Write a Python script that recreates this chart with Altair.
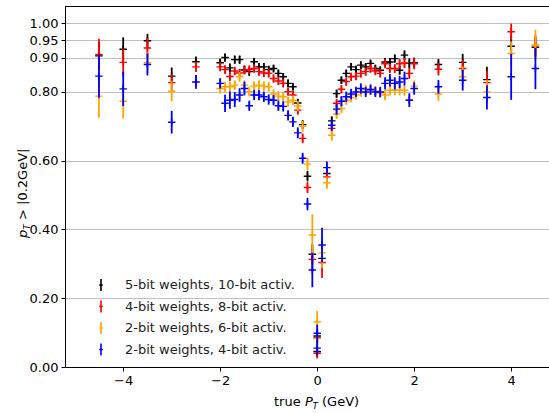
import altair as alt
import pandas as pd

# ---- data -------------------------------------------------------------
MODELS = [
    "5-bit weights, 10-bit activ.",
    "4-bit weights, 8-bit activ.",
    "2-bit weights, 6-bit activ.",
    "2-bit weights, 4-bit activ.",
]
MODEL_COLORS = ["black", "red", "orange", "blue"]

# negative-side bins end at 0 and positive-side bins start at 0,
# so the zero bin appears twice
true_pt = [
    -4.5, -4.0, -3.5, -3.0, -2.5,
    -2.0, -1.9, -1.8, -1.7, -1.6, -1.5, -1.4, -1.3, -1.2, -1.1,
    -1.0, -0.9, -0.8, -0.7, -0.6, -0.5, -0.4, -0.3, -0.2, -0.1,
    0.0, 0.0,
    0.1, 0.2, 0.3, 0.4, 0.5, 0.6, 0.7, 0.8, 0.9, 1.0,
    1.1, 1.2, 1.3, 1.4, 1.5, 1.6, 1.7, 1.8, 1.9, 2.0,
    2.5, 3.0, 3.5, 4.0, 4.5,
]

eff_w5_a10 = [
    0.905, 0.924, 0.949, 0.846, 0.888,
    0.885, 0.900, 0.870, 0.894, 0.894, 0.865, 0.859, 0.888, 0.873, 0.873,
    0.865, 0.868, 0.854, 0.844, 0.825, 0.815, 0.768, 0.705, 0.555, 0.328,
    0.090, 0.045,
    0.316, 0.563, 0.716, 0.795, 0.834, 0.854, 0.873, 0.865, 0.878, 0.873,
    0.883, 0.868, 0.863, 0.887, 0.887, 0.897, 0.863, 0.907, 0.883, 0.885,
    0.880, 0.886, 0.836, 0.933, 0.930,
]
err_w5_a10 = [
    0.040, 0.035, 0.020, 0.025, 0.015,
    0.012, 0.012, 0.013, 0.012, 0.012, 0.012, 0.012, 0.011, 0.011, 0.011,
    0.011, 0.011, 0.011, 0.011, 0.011, 0.011, 0.012, 0.013, 0.015, 0.030,
    0.020, 0.015,
    0.030, 0.014, 0.013, 0.012, 0.011, 0.011, 0.011, 0.011, 0.011, 0.011,
    0.011, 0.011, 0.011, 0.012, 0.012, 0.012, 0.013, 0.014, 0.015, 0.015,
    0.016, 0.025, 0.037, 0.030, 0.030,
]

eff_w4_a8 = [
    0.909, 0.886, 0.928, 0.827, 0.873,
    0.873, 0.865, 0.845, 0.861, 0.855, 0.863, 0.865, 0.868, 0.859, 0.855,
    0.854, 0.839, 0.832, 0.825, 0.801, 0.791, 0.747, 0.665, 0.522, 0.313,
    0.085, 0.040,
    0.304, 0.553, 0.694, 0.767, 0.808, 0.830, 0.844, 0.846, 0.854, 0.859,
    0.868, 0.861, 0.854, 0.882, 0.868, 0.868, 0.882, 0.884, 0.854, 0.882,
    0.866, 0.868, 0.827, 0.975, 0.935,
]
err_w4_a8 = [
    0.046, 0.040, 0.030, 0.025, 0.015,
    0.013, 0.013, 0.013, 0.012, 0.012, 0.012, 0.012, 0.012, 0.012, 0.012,
    0.012, 0.012, 0.012, 0.012, 0.012, 0.012, 0.013, 0.014, 0.016, 0.035,
    0.020, 0.015,
    0.045, 0.015, 0.014, 0.013, 0.012, 0.012, 0.012, 0.012, 0.012, 0.012,
    0.012, 0.012, 0.012, 0.013, 0.013, 0.013, 0.014, 0.015, 0.016, 0.016,
    0.018, 0.025, 0.035, 0.024, 0.030,
]

eff_w2_a6 = [
    0.788, 0.773, 0.885, 0.802, 0.829,
    0.810, 0.815, 0.815, 0.820, 0.844, 0.820, 0.801, 0.817, 0.820, 0.817,
    0.815, 0.794, 0.788, 0.786, 0.771, 0.776, 0.759, 0.700, 0.590, 0.384,
    0.131, 0.083,
    0.332, 0.536, 0.674, 0.736, 0.752, 0.776, 0.784, 0.791, 0.800, 0.807,
    0.805, 0.803, 0.797, 0.791, 0.805, 0.805, 0.805, 0.805, 0.778, 0.817,
    0.794, 0.844, 0.800, 0.912, 0.936,
]
err_w2_a6 = [
    0.063, 0.050, 0.030, 0.030, 0.020,
    0.015, 0.015, 0.015, 0.014, 0.014, 0.014, 0.014, 0.014, 0.014, 0.014,
    0.014, 0.014, 0.014, 0.014, 0.014, 0.014, 0.015, 0.016, 0.018, 0.060,
    0.032, 0.020,
    0.045, 0.018, 0.016, 0.015, 0.014, 0.014, 0.014, 0.014, 0.014, 0.014,
    0.014, 0.014, 0.014, 0.015, 0.015, 0.015, 0.015, 0.016, 0.017, 0.017,
    0.020, 0.030, 0.035, 0.035, 0.045,
]

eff_w2_a4 = [
    0.846, 0.809, 0.880, 0.712, 0.829,
    0.825, 0.767, 0.776, 0.778, 0.791, 0.810, 0.760, 0.791, 0.791, 0.786,
    0.778, 0.776, 0.760, 0.758, 0.732, 0.713, 0.681, 0.607, 0.474, 0.282,
    0.098, 0.055,
    0.355, 0.580, 0.703, 0.750, 0.773, 0.786, 0.794, 0.800, 0.810, 0.800,
    0.807, 0.800, 0.800, 0.825, 0.834, 0.825, 0.829, 0.839, 0.776, 0.810,
    0.815, 0.834, 0.784, 0.844, 0.868,
]
err_w2_a4 = [
    0.063, 0.050, 0.032, 0.033, 0.020,
    0.015, 0.025, 0.025, 0.022, 0.020, 0.020, 0.015, 0.015, 0.015, 0.015,
    0.015, 0.015, 0.015, 0.015, 0.015, 0.015, 0.016, 0.016, 0.018, 0.050,
    0.025, 0.020,
    0.050, 0.018, 0.016, 0.016, 0.015, 0.015, 0.015, 0.015, 0.015, 0.015,
    0.015, 0.015, 0.015, 0.018, 0.018, 0.018, 0.018, 0.020, 0.020, 0.018,
    0.020, 0.030, 0.035, 0.067, 0.060,
]

y_ticks = [0.0, 0.2, 0.4, 0.6, 0.8, 0.9, 0.95, 1.0]
x_ticks = [-4, -2, 0, 2, 4]

# ---- table ------------------------------------------------------------
frames = []
for name, eff, err in zip(
    MODELS,
    [eff_w5_a10, eff_w4_a8, eff_w2_a6, eff_w2_a4],
    [err_w5_a10, err_w4_a8, err_w2_a6, err_w2_a4],
):
    frames.append(pd.DataFrame({"pt": true_pt, "eff": eff, "err": err, "model": name}))
df = pd.concat(frames, ignore_index=True)

# ---- layout -----------------------------------------------------------
FONT = "DejaVu Sans"
FS = 13
W, H = 484, 361
PAD = {"left": 65, "top": 6, "right": 0, "bottom": 46}

x_scale = alt.Scale(domain=[-5.2, 4.78], nice=False, zero=False)
y_scale = alt.Scale(domain=[0, 1.05], nice=False, zero=False)

x_axis = alt.Axis(values=x_ticks, title=None, grid=False, tickSize=4,
                  tickColor="black", domainColor="black", labelPadding=3)
y_axis = alt.Axis(values=y_ticks, format=".2f", title=None, grid=True,
                  gridColor="#b0b0b0", gridWidth=0.8, tickSize=4,
                  tickColor="black", domainColor="black", labelPadding=3)

PLUS = "M-1,0L1,0M0,-1L0,1"
LEGEND_PLUS = "M-0.3,0L0.3,0M0,-1L0,1"

color = alt.Color(
    "model:N",
    scale=alt.Scale(domain=MODELS, range=MODEL_COLORS),
    legend=alt.Legend(
        orient="none", legendX=29, legendY=272, title=None,
        symbolType=LEGEND_PLUS, symbolSize=144, symbolStrokeWidth=1.6,
        symbolFillColor="transparent",
        labelFont=FONT, labelFontSize=FS, labelColor="#222222",
        labelOffset=17, labelLimit=0, rowPadding=1.5, padding=0,
    ),
)

layers = []
for name in MODELS:
    sub = alt.Chart(df).transform_filter(alt.datum.model == name)
    bars = sub.transform_calculate(
        lo="datum.eff - datum.err", hi="datum.eff + datum.err"
    ).mark_rule(strokeWidth=1.8).encode(
        x=alt.X("pt:Q", scale=x_scale, axis=x_axis),
        y=alt.Y("lo:Q", scale=y_scale, axis=y_axis),
        y2="hi:Q",
        color=color,
    )
    marks = sub.mark_point(shape=PLUS, filled=False, size=56, strokeWidth=1.4,
                           opacity=1).encode(
        x=alt.X("pt:Q", scale=x_scale, axis=x_axis),
        y=alt.Y("eff:Q", scale=y_scale, axis=y_axis),
        color=color,
    )
    layers += [bars, marks]

# top frame line
frame_top = alt.Chart(pd.DataFrame({"k": [0]})).mark_rule(
    color="black", strokeWidth=1
).encode(x=alt.value(0), x2=alt.value(W), y=alt.value(0.5))

# axis titles built from text pieces (italic symbol + subscript)
def text_piece(txt, x, y, size=FS, italic=False, angle=0):
    kw = dict(font=FONT, fontSize=size, align="left", baseline="alphabetic",
              color="black")
    if italic:
        kw["fontStyle"] = "italic"
    if angle:
        kw["angle"] = angle
    return alt.Chart(pd.DataFrame({"t": [txt]})).mark_text(**kw).encode(
        text="t:N", x=alt.value(x), y=alt.value(y))

# x title: "true P_T (GeV)" centred under the axis
xt0, xty = 209, 400
x_title = [
    text_piece("true", xt0, xty),
    text_piece("P", xt0 + 31, xty, italic=True),
    text_piece("T", xt0 + 38.5, xty + 3, size=9, italic=True),
    text_piece("(GeV)", xt0 + 48, xty),
]

# y title: "p_T > |0.2GeV|" rotated, reading upward
ytx, yty = -38, 232
y_title = [
    text_piece("p", ytx, yty, italic=True, angle=270),
    text_piece("T", ytx + 3, yty - 8.3, size=9, italic=True, angle=270),
    text_piece(">", ytx, yty - 18, angle=270),
    text_piece("|0.2GeV|", ytx, yty - 33, angle=270),
]

chart = alt.layer(*layers, frame_top, *x_title, *y_title).properties(
    width=W, height=H, padding=PAD,
    autosize=alt.AutoSizeParams(type="none"),
).configure_view(stroke=None).configure_axis(
    labelFont=FONT, labelFontSize=FS, labelColor="black",
    domainWidth=1, tickWidth=1,
)

chart.save("out.html", embed_options={"renderer": "svg", "actions": False})
